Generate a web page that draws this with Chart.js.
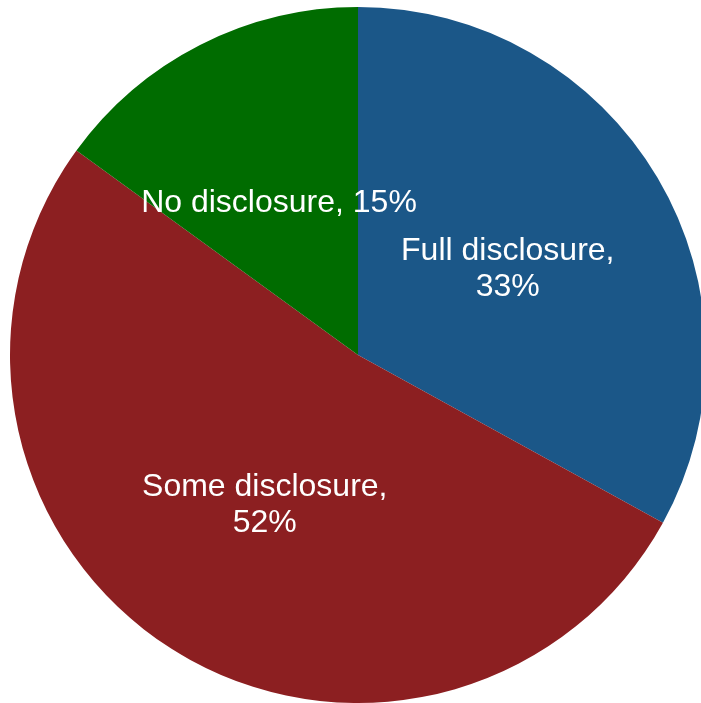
<!DOCTYPE html>
<html>
<head>
<meta charset="utf-8">
<script src="https://cdn.jsdelivr.net/npm/chart.js@4/dist/chart.umd.min.js"></script>
<style>
  html, body { margin: 0; padding: 0; background: #ffffff; overflow: hidden; }
  #wrap { width: 716px; height: 710px; }
</style>
</head>
<body>
<div id="wrap"><canvas id="c" width="716" height="710"></canvas></div>
<script>
const categories = ['Full disclosure', 'Some disclosure', 'No disclosure'];
const values = [33, 52, 15];
const wrapAfterComma = [true, true, false];
const colors = ['#1B5788', '#8C1F21', '#006C00'];

const labelPlugin = {
  id: 'sliceLabels',
  afterDatasetsDraw(chart) {
    const ctx = chart.ctx;
    const meta = chart.getDatasetMeta(0);
    ctx.save();
    ctx.fillStyle = '#ffffff';
    ctx.font = '32px "Liberation Sans", Arial, sans-serif';
    ctx.textAlign = 'center';
    ctx.textBaseline = 'middle';
    const lineH = 36;
    meta.data.forEach((arc, i) => {
      const p = arc.tooltipPosition();
      const lines = wrapAfterComma[i]
        ? [categories[i] + ',', values[i] + '%']
        : [categories[i] + ', ' + values[i] + '%'];
      const start = p.y + 3 - (lines.length - 1) * lineH / 2;
      lines.forEach((t, k) => ctx.fillText(t, p.x, start + k * lineH));
    });
    ctx.restore();
  }
};

new Chart(document.getElementById('c'), {
  type: 'pie',
  data: {
    labels: categories,
    datasets: [{
      data: values,
      backgroundColor: colors,
      borderWidth: 0,
      hoverOffset: 0
    }]
  },
  options: {
    responsive: false,
    animation: false,
    events: [],
    layout: { padding: { top: 7, bottom: 7, left: 10, right: 10 } },
    plugins: {
      legend: { display: false },
      tooltip: { enabled: false }
    }
  },
  plugins: [labelPlugin]
});
</script>
</body>
</html>
